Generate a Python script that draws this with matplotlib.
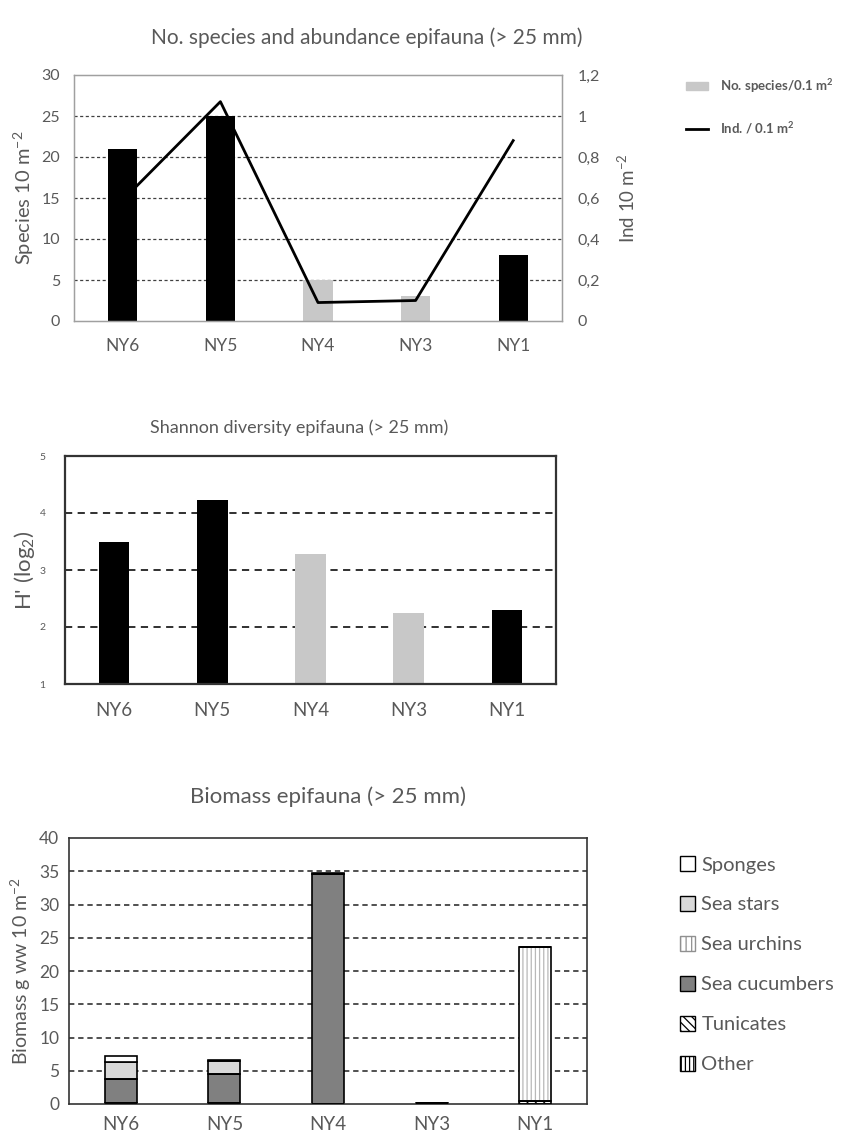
import matplotlib
matplotlib.use("Agg")
import matplotlib.pyplot as plt
import matplotlib.patches as mpatches
from matplotlib.lines import Line2D
from matplotlib.ticker import FuncFormatter

plt.rcParams.update({
    "font.family": ["Lato", "DejaVu Sans"],
    "mathtext.default": "regular",
    "hatch.linewidth": 0.9,
})

GREY_TXT = "#595959"

# ── data ──────────────────────────────────────────────────────────────────────
stations = ["NY6", "NY5", "NY4", "NY3", "NY1"]
light_stations = ["NY4", "NY3"]

n_species = [21, 25, 5, 3, 8]                 # species / 0.1 m2 (left axis)
ind_density = [0.59, 1.07, 0.09, 0.10, 0.88]  # ind / 0.1 m2 (right axis)

shannon = [3.49, 4.22, 3.28, 2.24, 2.30]

# biomass g ww 10 m-2, stacked bottom -> top
bio_other = [0.15, 0.15, 0.0, 0.0, 0.0]
bio_tunicates = [0.0, 0.0, 0.0, 0.0, 0.45]
bio_cucumbers = [3.6, 4.3, 34.6, 0.1, 0.0]
bio_urchins = [0.0, 0.0, 0.0, 0.0, 23.1]
bio_stars = [2.5, 2.05, 0.0, 0.0, 0.0]
bio_sponges = [0.9, 0.1, 0.1, 0.0, 0.0]

x = list(range(len(stations)))
bar_cols = ["#c8c8c8" if s in light_stations else "black" for s in stations]

fig = plt.figure(figsize=(8.55, 11.42), dpi=100)


def px_axes(left, top, right, bottom):
    W, H = 855, 1142
    return fig.add_axes([left / W, 1 - bottom / H, (right - left) / W, (bottom - top) / H])


comma = FuncFormatter(lambda v, p: f"{v:g}".replace(".", ","))

# ── Panel 1: species + abundance ─────────────────────────────────────────────
ax1 = px_axes(74, 75, 562, 321)
ax1.bar(x, n_species, width=0.30, color=bar_cols, zorder=2)
ax1.set_xlim(-0.5, 4.5)
ax1.set_ylim(0, 30)
ax1.set_yticks(range(0, 31, 5))
for v in range(5, 30, 5):
    ax1.axhline(v, color="#404040", lw=0.9, ls=(0, (2.5, 2)), zorder=1)
ax1.set_xticks(x)
ax1.set_xticklabels(stations, fontsize=12.5)
ax1.tick_params(length=0, colors=GREY_TXT)
ax1.tick_params(axis="y", labelsize=11.5, pad=10)
ax1.tick_params(axis="x", pad=12)
for sp in ax1.spines.values():
    sp.set_color("#a0a0a0")
    sp.set_linewidth(1.0)
ax1.set_ylabel("Species 10 m$^{-2}$", fontsize=14.5, color=GREY_TXT, labelpad=4)

ax1b = ax1.twinx()
ax1b.plot(x, ind_density, color="black", lw=2, zorder=3)
ax1b.set_ylim(0, 1.2)
ax1b.set_yticks([0, 0.2, 0.4, 0.6, 0.8, 1.0, 1.2])
ax1b.yaxis.set_major_formatter(comma)
ax1b.tick_params(length=0, labelsize=11.5, colors=GREY_TXT, pad=11)
for sp in ax1b.spines.values():
    sp.set_color("#a0a0a0")
ax1b.set_ylabel("Ind 10 m$^{-2}$", fontsize=13.5, color=GREY_TXT, labelpad=12)

fig.text(367 / 855, 1 - 38 / 1142, "No. species and abundance epifauna (> 25 mm)",
         ha="center", va="center", fontsize=15, color=GREY_TXT)

h1 = [mpatches.Patch(color="#c8c8c8", label="No. species/0.1 m$^{2}$"),
      Line2D([], [], color="black", lw=2, label="Ind. / 0.1 m$^{2}$")]
leg1 = fig.legend(handles=h1, loc="upper left", bbox_to_anchor=(674 / 855, 1 - 65 / 1142),
                  frameon=False, handlelength=1.7, handleheight=0.6, handletextpad=0.9,
                  labelspacing=1.9, prop={"size": 9.5, "weight": "bold"})
for t in leg1.get_texts():
    t.set_color(GREY_TXT)

# ── Panel 2: Shannon diversity ───────────────────────────────────────────────
ax2 = px_axes(65, 456, 556, 684)
ax2.bar(x, shannon, width=0.31, color=bar_cols, zorder=2, bottom=0)
ax2.set_xlim(-0.5, 4.5)
ax2.set_ylim(1, 5)
ax2.set_yticks([1, 2, 3, 4, 5])
for v in [2, 3, 4]:
    ax2.axhline(v, color="#202020", lw=1.3, ls=(0, (4, 3)), zorder=1)
ax2.set_xticks(x)
ax2.set_xticklabels(stations, fontsize=13.5)
ax2.tick_params(length=0, colors=GREY_TXT)
ax2.tick_params(axis="y", labelsize=7.5, pad=14)
ax2.tick_params(axis="x", pad=13)
for sp in ax2.spines.values():
    sp.set_color("#333333")
    sp.set_linewidth(1.6)
ax2.set_ylabel("H' (log$_2$)", fontsize=16, color=GREY_TXT, labelpad=2)
fig.text(299 / 855, 1 - 428 / 1142, "Shannon diversity epifauna (> 25 mm)",
         ha="center", va="center", fontsize=13, color=GREY_TXT)

# ── Panel 3: biomass stacked ─────────────────────────────────────────────────
ax3 = px_axes(69, 838, 587, 1104)
groups = [
    ("Other", bio_other, "black", "||||"),
    ("Tunicates", bio_tunicates, "white", "\\\\\\\\"),
    ("Sea cucumbers", bio_cucumbers, "#808080", None),
    ("Sea urchins", bio_urchins, "white", "||||"),
    ("Sea stars", bio_stars, "#d9d9d9", None),
    ("Sponges", bio_sponges, "white", None),
]
bottom = [0.0] * len(stations)
for name, vals, fc, hatch in groups:
    if name == "Other":
        ax3.bar(x, vals, bottom=bottom, width=0.31, color="black", edgecolor="black",
                lw=1.2, zorder=2)
    elif hatch is not None:
        hcol = "#b8b8b8" if name == "Sea urchins" else "black"
        ax3.bar(x, vals, bottom=bottom, width=0.31, color=fc, edgecolor=hcol,
                hatch=hatch, lw=0, zorder=2)
        ax3.bar(x, vals, bottom=bottom, width=0.31, fill=False, edgecolor="black",
                lw=1.2, zorder=3)
    else:
        ax3.bar(x, vals, bottom=bottom, width=0.31, color=fc, edgecolor="black",
                lw=1.2, zorder=2)
    bottom = [b + v for b, v in zip(bottom, vals)]

ax3.set_xlim(-0.5, 4.5)
ax3.set_ylim(0, 40)
ax3.set_yticks(range(0, 41, 5))
for v in range(5, 40, 5):
    ax3.axhline(v, color="#202020", lw=1.1, ls=(0, (3.5, 2.5)), zorder=1)
ax3.set_xticks(x)
ax3.set_xticklabels(stations, fontsize=13.5)
ax3.tick_params(length=0, colors=GREY_TXT)
ax3.tick_params(axis="y", labelsize=12.5, pad=7)
ax3.tick_params(axis="x", pad=9)
for sp in ax3.spines.values():
    sp.set_color("#333333")
    sp.set_linewidth(1.2)
ax3.set_ylabel("Biomass g ww 10 m$^{-2}$", fontsize=14, color=GREY_TXT, labelpad=4)
fig.text(328 / 855, 1 - 797 / 1142, "Biomass epifauna (> 25 mm)",
         ha="center", va="center", fontsize=16, color=GREY_TXT)

h3 = [
    mpatches.Patch(facecolor="white", edgecolor="black", label="Sponges"),
    mpatches.Patch(facecolor="#d9d9d9", edgecolor="black", label="Sea stars"),
    mpatches.Patch(facecolor="white", edgecolor="#909090", hatch="|||", label="Sea urchins"),
    mpatches.Patch(facecolor="#808080", edgecolor="black", label="Sea cucumbers"),
    mpatches.Patch(facecolor="white", edgecolor="black", hatch="\\\\\\\\", label="Tunicates"),
    mpatches.Patch(facecolor="white", edgecolor="black", hatch="||||", label="Other"),
]
leg3 = fig.legend(handles=h3, loc="upper left", bbox_to_anchor=(662 / 855, 1 - 838 / 1142),
                  frameon=False, handlelength=0.75, handleheight=0.75, handletextpad=0.3,
                  labelspacing=1.12, fontsize=14.5)
for t in leg3.get_texts():
    t.set_color(GREY_TXT)

fig.savefig("out.png", dpi=100)
